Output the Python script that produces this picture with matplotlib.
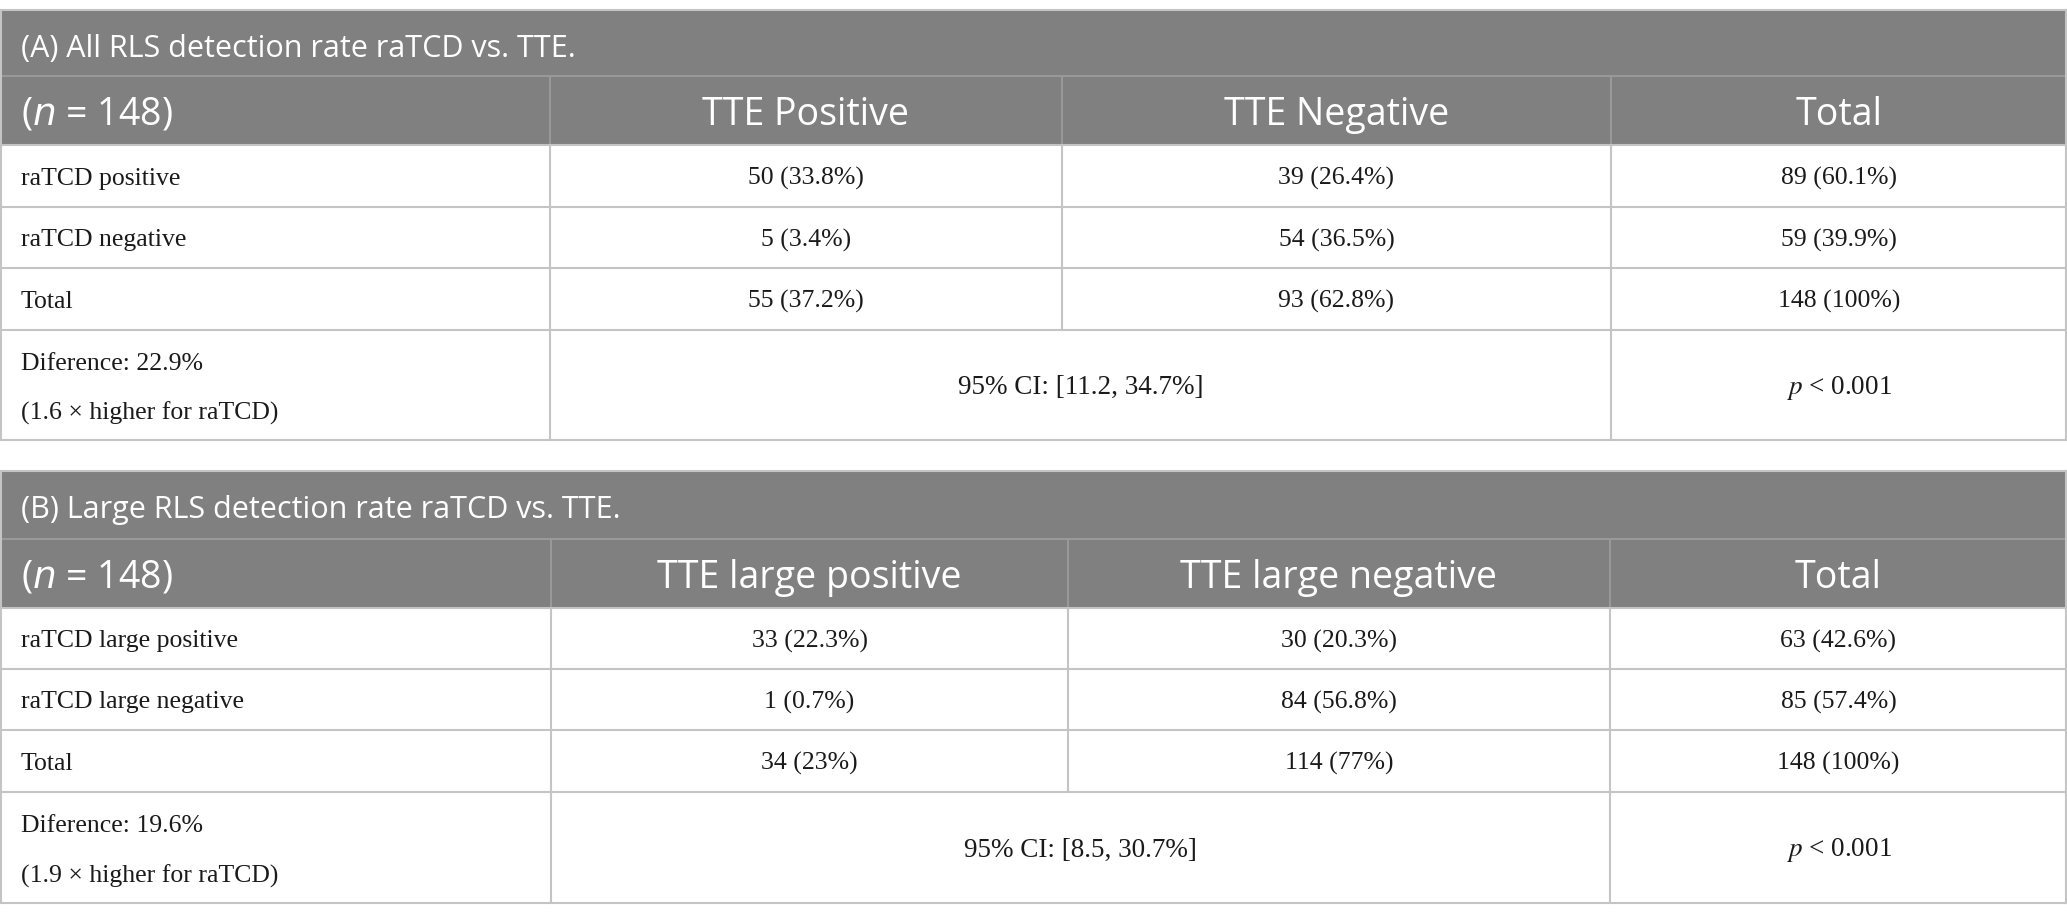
import numpy as np
import matplotlib
matplotlib.use('Agg')
import matplotlib.pyplot as plt
from matplotlib.patches import Rectangle

# table contents
titles = ['(A) All RLS detection rate raTCD vs. TTE.',
          '(B) Large RLS detection rate raTCD vs. TTE.']
n_total = [148, 148]
col_heads = [['TTE Positive', 'TTE Negative', 'Total'],
             ['TTE large positive', 'TTE large negative', 'Total']]
row_labels = [['raTCD positive', 'raTCD negative', 'Total'],
              ['raTCD large positive', 'raTCD large negative', 'Total']]
counts_a = [[50, 39, 89], [5, 54, 59], [55, 93, 148]]
pct_a = [[33.8, 26.4, 60.1], [3.4, 36.5, 39.9], [37.2, 62.8, 100]]
counts_b = [[33, 30, 63], [1, 84, 85], [34, 114, 148]]
pct_b = [[22.3, 20.3, 42.6], [0.7, 56.8, 57.4], [23, 77, 100]]
diffs = [22.9, 19.6]
ratios = [1.6, 1.9]
ci_low = [11.2, 8.5]
ci_high = [34.7, 30.7]
p_text = ['< 0.001', '< 0.001']

# layout (pixels)
W, H = 2067, 922
row_y = [[10.5, 76.5, 145, 207, 268, 330, 440],
         [471, 539, 608, 669, 730, 792, 903]]
col_x = [[0, 550, 1062, 1611, W],
         [0, 551, 1068, 1610, W]]

head_bg = '#7f807f'
head_line = '#9a9a9a'
grid = '#c4c4c4'
txt = '#1a1a1a'
sans = 'Open Sans'
serif = 'Liberation Serif'
fs_title = 22
fs_head = 27
fs_body = 18.5

fig = plt.figure(figsize=(W / 100, H / 100), dpi=100)
ax = fig.add_axes([0, 0, 1, 1])
ax.set_xlim(0, W)
ax.set_ylim(H, 0)
ax.axis('off')

counts = [counts_a, counts_b]
pcts = [pct_a, pct_b]

for t in range(2):
    ys = row_y[t]
    xs = col_x[t]
    # grey header block
    ax.add_patch(Rectangle((0, ys[0]), W, ys[2] - ys[0], color=head_bg, lw=0, zorder=1))
    ax.plot([0, W], [ys[1], ys[1]], color=head_line, lw=1.4, zorder=2)
    for x in xs[1:-1]:
        ax.plot([x, x], [ys[1], ys[2]], color=head_line, lw=1.4, zorder=2)
    # body grid
    for y in ys[2:]:
        ax.plot([0, W], [y, y], color=grid, lw=1.5, zorder=2)
    ax.plot([0, W], [ys[0], ys[0]], color=grid, lw=1.5, zorder=2)
    for x in [1, W - 1]:
        ax.plot([x, x], [ys[0], ys[-1]], color=grid, lw=1.5, zorder=2)
    for x in xs[1:-1]:
        ax.plot([x, x], [ys[2], ys[5]], color=grid, lw=1.5, zorder=2)
    ax.plot([xs[1], xs[1]], [ys[5], ys[6]], color=grid, lw=1.5, zorder=2)
    ax.plot([xs[3], xs[3]], [ys[5], ys[6]], color=grid, lw=1.5, zorder=2)

    # title and header
    ax.text(21, (ys[0] + ys[1]) / 2 + 5, titles[t], color='white', fontsize=fs_title,
            family=sans, ha='left', va='center', zorder=3)
    ax.text(21, (ys[1] + ys[2]) / 2 + 4, '($n$ = %d)' % n_total[t], color='white',
            fontsize=fs_head, family=sans, math_fontfamily='dejavusans',
            ha='left', va='center', zorder=3)
    for j in range(3):
        ax.text((xs[j + 1] + xs[j + 2]) / 2, (ys[1] + ys[2]) / 2 + 4, col_heads[t][j],
                color='white', fontsize=fs_head, family=sans, ha='center', va='center', zorder=3)

    # body rows
    for i in range(3):
        yc = (ys[i + 2] + ys[i + 3]) / 2 + 2.5
        ax.text(21, yc, row_labels[t][i], color=txt, fontsize=fs_body, family=serif,
                ha='left', va='center', zorder=3)
        for j in range(3):
            ax.text((xs[j + 1] + xs[j + 2]) / 2, yc,
                    '%d (%g%%)' % (counts[t][i][j], pcts[t][i][j]),
                    color=txt, fontsize=fs_body, family=serif, ha='center', va='center', zorder=3)

    # summary row
    yc = (ys[5] + ys[6]) / 2 + 2.5
    ax.text(21, yc - 24, 'Diference: %.1f%%' % diffs[t], color=txt, fontsize=fs_body,
            family=serif, ha='left', va='center', zorder=3)
    ax.text(21, yc + 26, '(%.1f \u00d7 higher for raTCD)' % ratios[t], color=txt,
            fontsize=fs_body, family=serif, ha='left', va='center', zorder=3)
    ax.text((xs[1] + xs[3]) / 2, yc, '95%% CI: [%.1f, %.1f%%]' % (ci_low[t], ci_high[t]),
            color=txt, fontsize=19.5, family=serif, ha='center', va='center', zorder=3)
    ax.text((xs[3] + xs[4]) / 2, yc, '$p$ ' + p_text[t], color=txt, fontsize=19.5,
            family=serif, math_fontfamily='stix', ha='center', va='center', zorder=3)

fig.savefig('out.png', dpi=100, facecolor='white')
